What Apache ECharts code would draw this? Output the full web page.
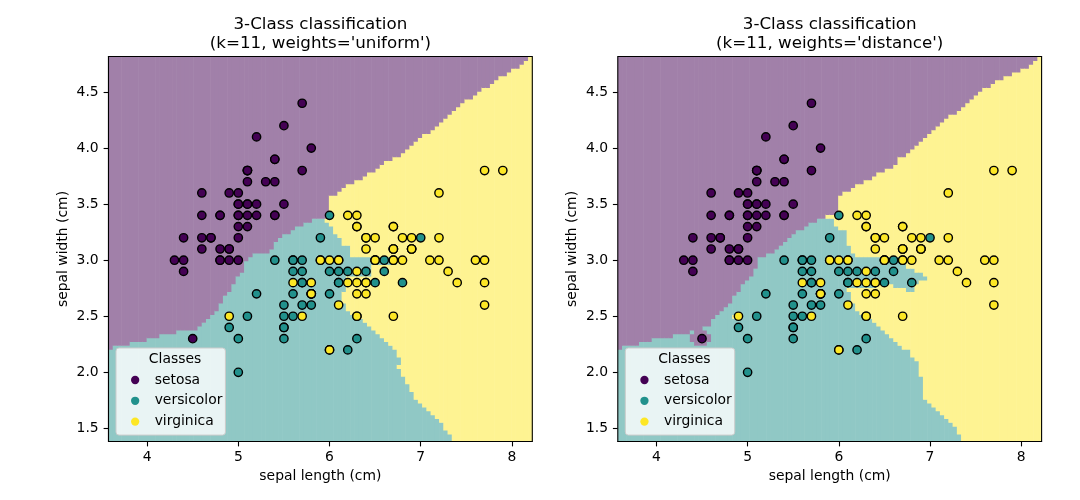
<!DOCTYPE html>
<html><head><meta charset="utf-8">
<script src="https://cdn.jsdelivr.net/npm/echarts@6/dist/echarts.min.js"></script>
<style>html,body{margin:0;padding:0;background:#fff}#c{width:1080px;height:500px}</style>
</head><body><div id="c"></div><script>
// ---- data: iris sepal length / width per class ----
const classNames = ['setosa', 'versicolor', 'virginica'];
const setosa = [[5.1,3.5],[4.9,3.0],[4.7,3.2],[4.6,3.1],[5.0,3.6],[5.4,3.9],[4.6,3.4],[5.0,3.4],[4.4,2.9],[4.9,3.1],
[5.4,3.7],[4.8,3.4],[4.8,3.0],[4.3,3.0],[5.8,4.0],[5.7,4.4],[5.4,3.9],[5.1,3.5],[5.7,3.8],[5.1,3.8],
[5.4,3.4],[5.1,3.7],[4.6,3.6],[5.1,3.3],[4.8,3.4],[5.0,3.0],[5.0,3.4],[5.2,3.5],[5.2,3.4],[4.7,3.2],
[4.8,3.1],[5.4,3.4],[5.2,4.1],[5.5,4.2],[4.9,3.1],[5.0,3.2],[5.5,3.5],[4.9,3.6],[4.4,3.0],[5.1,3.4],
[5.0,3.5],[4.5,2.3],[4.4,3.2],[5.0,3.5],[5.1,3.8],[4.8,3.0],[5.1,3.8],[4.6,3.2],[5.3,3.7],[5.0,3.3]];
const versicolor = [[7.0,3.2],[6.4,3.2],[6.9,3.1],[5.5,2.3],[6.5,2.8],[5.7,2.8],[6.3,3.3],[4.9,2.4],[6.6,2.9],[5.2,2.7],
[5.0,2.0],[5.9,3.0],[6.0,2.2],[6.1,2.9],[5.6,2.9],[6.7,3.1],[5.6,3.0],[5.8,2.7],[6.2,2.2],[5.6,2.5],
[5.9,3.2],[6.1,2.8],[6.3,2.5],[6.1,2.8],[6.4,2.9],[6.6,3.0],[6.8,2.8],[6.7,3.0],[6.0,2.9],[5.7,2.6],
[5.5,2.4],[5.5,2.4],[5.8,2.7],[6.0,2.7],[5.4,3.0],[6.0,3.4],[6.7,3.1],[6.3,2.3],[5.6,3.0],[5.5,2.5],
[5.5,2.6],[6.1,3.0],[5.8,2.6],[5.0,2.3],[5.6,2.7],[5.7,3.0],[5.7,2.9],[6.2,2.9],[5.1,2.5],[5.7,2.8]];
const virginica = [[6.3,3.3],[5.8,2.7],[7.1,3.0],[6.3,2.9],[6.5,3.0],[7.6,3.0],[4.9,2.5],[7.3,2.9],[6.7,2.5],[7.2,3.6],
[6.5,3.2],[6.4,2.7],[6.8,3.0],[5.7,2.5],[5.8,2.8],[6.4,3.2],[6.5,3.0],[7.7,3.8],[7.7,2.6],[6.0,2.2],
[6.9,3.2],[5.6,2.8],[7.7,2.8],[6.3,2.7],[6.7,3.3],[7.2,3.2],[6.2,2.8],[6.1,3.0],[6.4,2.8],[7.2,3.0],
[7.4,2.8],[7.9,3.8],[6.4,2.8],[6.3,2.8],[6.1,2.6],[7.7,3.0],[6.3,3.4],[6.4,3.1],[6.0,3.0],[6.9,3.1],
[6.7,3.1],[6.9,3.1],[5.8,2.7],[6.8,3.2],[6.7,3.3],[6.7,3.0],[6.3,2.5],[6.5,3.0],[6.2,3.4],[5.9,3.0]];

const xTicks = [4, 5, 6, 7, 8];
const yTicks = [1.5, 2.0, 2.5, 3.0, 3.5, 4.0, 4.5];
const meshX = [3.6, 8.2];   // mesh centre range
const meshY = [1.4, 4.8];
const meshN = 100;

// ---- decision-region boundaries (data units) ----
// weights='uniform'
const uniPurpleYellow = [[8.21,4.83],[8.187,4.789],[8.041,4.714],[7.858,4.625],[7.674,4.521],[7.491,4.417],[7.308,4.283],
[7.125,4.164],[6.942,4.060],[6.759,3.941],[6.576,3.852],[6.392,3.748],[6.209,3.674],[5.990,3.555],[5.990,3.39],[5.898,3.376]];
const uniPurpleTeal = [[5.879,3.385],[5.769,3.347],[5.660,3.302],[5.550,3.242],[5.440,3.198],[5.36,3.08],[5.183,3.052],
[5.073,2.993],[5.055,2.889],[4.982,2.844],[4.890,2.725],[4.799,2.591],[4.671,2.487],[4.561,2.398],[4.451,2.383],
[4.268,2.353],[4.011,2.300],[3.755,2.249],[3.572,2.214],[3.40,2.20]];
const uniTealYellow = [[5.898,3.376],[5.990,3.347],[6.080,3.230],[6.170,3.130],[6.228,3.130],[6.228,3.044],[6.741,3.044],
[6.741,2.954],[6.448,2.954],[6.448,2.850],[6.20,2.850],[6.19,2.755],[6.136,2.70],[6.136,2.651],[6.173,2.591],[6.209,2.547],
[6.319,2.502],[6.392,2.443],[6.484,2.383],[6.576,2.309],[6.685,2.234],[6.740,2.160],[6.788,2.130],[6.788,2.071],
[6.740,2.056],[6.795,1.997],[6.905,1.803],[7.015,1.714],[7.125,1.625],[7.235,1.536],[7.345,1.432],[7.381,1.357],[7.39,1.20]];
// weights='distance'
const distPurpleYellow = [[8.20,4.83],[8.173,4.789],[8.027,4.714],[7.844,4.640],[7.661,4.566],[7.551,4.506],[7.404,4.417],
[7.294,4.328],[7.184,4.268],[7.074,4.179],[6.928,4.090],[6.818,4.001],[6.671,3.911],[6.562,3.822],[6.378,3.748],
[6.195,3.674],[5.976,3.555],[5.976,3.406],[5.85,3.406],[5.85,3.385]];
const distPurpleTeal = [[5.85,3.385],[5.719,3.347],[5.609,3.287],[5.499,3.242],[5.389,3.168],[5.316,3.10],[5.133,3.022],
[5.078,2.904],[4.986,2.814],[4.895,2.725],[4.821,2.636],[4.730,2.562],[4.657,2.502],[4.583,2.428],[4.492,2.383],
[4.327,2.353],[3.997,2.300],[3.741,2.249],[3.558,2.214],[3.40,2.20]];
const distTealYellow = [[5.85,3.385],[5.94,3.385],[5.94,3.317],[5.994,3.317],[5.994,3.287],[6.067,3.287],[6.067,3.138],
[6.122,3.138],[6.122,3.079],[6.195,3.052],[6.195,3.037],[6.726,3.037],[6.726,2.948],[6.928,2.874],[6.965,2.844],
[6.891,2.829],[6.891,2.785],[6.836,2.770],[6.818,2.725],[6.745,2.725],[6.708,2.770],[6.617,2.770],[6.562,2.799],
[6.378,2.770],[6.232,2.755],[6.104,2.740],[6.122,2.651],[6.177,2.591],[6.214,2.532],[6.342,2.487],[6.415,2.428],
[6.507,2.353],[6.598,2.294],[6.690,2.234],[6.763,2.190],[6.818,2.116],[6.873,2.071],[6.873,1.967],[6.921,1.952],
[6.921,1.759],[7.001,1.729],[7.111,1.640],[7.221,1.565],[7.313,1.461],[7.367,1.387],[7.386,1.20]];
const distPurplePatches = [[[4.36,2.28],[4.60,2.28],[4.60,2.345],[4.36,2.345]], [[4.41,2.245],[4.55,2.245],[4.55,2.375],[4.41,2.375]]];
const distYellowPatches = [[[4.83,2.485],[4.87,2.485],[4.87,2.515],[4.83,2.515]]];

// ---- styles ----
const F = 'DejaVu Sans';
const pointColors = ['#440154', '#21918c', '#fde725'];
const regionColors = ['#a180a9', '#90c8c5', '#fef392'];
const FS = 13.9, FT = 16.7;

// ---- build the mesh (cells classified by the region outlines) ----
function inside(p, poly) {
  let c = false;
  for (let i = 0, j = poly.length - 1; i < poly.length; j = i++) {
    const xi = poly[i][0], yi = poly[i][1], xj = poly[j][0], yj = poly[j][1];
    if (((yi > p[1]) !== (yj > p[1])) && (p[0] < (xj - xi) * (p[1] - yi) / (yj - yi) + xi)) c = !c;
  }
  return c;
}
function buildRuns(pY, pT, tY, purplePatches, yellowPatches) {
  const purple = [[3.4, 5.0], [pY[0][0], 5.0]].concat(pY, pT);
  const yellow = pY.concat(tY.slice(1), [[tY[tY.length - 1][0], 1.2], [8.5, 1.2], [8.5, 5.0], [pY[0][0], 5.0]]);
  const dx = (meshX[1] - meshX[0]) / (meshN - 1), dy = (meshY[1] - meshY[0]) / (meshN - 1);
  const runs = [];
  for (let i = 0; i < meshN; i++) {
    const xc = meshX[0] + i * dx;
    let cur = -1, start = 0;
    for (let j = 0; j <= meshN; j++) {
      let cls = -2;
      if (j < meshN) {
        const p = [xc, meshY[0] + j * dy];
        if (purplePatches.some(q => inside(p, q))) cls = 0;
        else if (yellowPatches.some(q => inside(p, q))) cls = 2;
        else if (inside(p, purple)) cls = 0;
        else if (inside(p, yellow)) cls = 2;
        else cls = 1;
      }
      if (cls !== cur) {
        if (cur >= 0) runs.push([xc - dx / 2, xc + dx / 2, meshY[0] + (start - 0.5) * dy, meshY[0] + (j - 0.5) * dy, cur]);
        cur = cls; start = j;
      }
    }
  }
  return runs;
}
const uniRuns = buildRuns(uniPurpleYellow, uniPurpleTeal, uniTealYellow, [], []);
const distRuns = buildRuns(distPurpleYellow, distPurpleTeal, distTealYellow, distPurplePatches, distYellowPatches);

const dxH = (meshX[1] - meshX[0]) / (meshN - 1) / 2, dyH = (meshY[1] - meshY[0]) / (meshN - 1) / 2;
const xMin = meshX[0] - dxH, xMax = meshX[1] + dxH, yMin = meshY[0] - dyH, yMax = meshY[1] + dyH;

const gridLefts = [108.5, 617.8];
const gridTop = 56.5, gridW = 423.8, gridH = 385;
const titles = ["3-Class classification\n(k=11, weights='uniform')", "3-Class classification\n(k=11, weights='distance')"];

function xAx(i) {
  return {type: 'value', gridIndex: i, min: xMin, max: xMax, name: 'sepal length (cm)', nameLocation: 'middle', nameGap: 28,
    nameTextStyle: {fontSize: FS, color: '#000', fontFamily: F},
    axisLine: {show: true, onZero: false, lineStyle: {color: '#000', width: 1.1}},
    axisTick: {show: true, customValues: xTicks, length: 4.9, lineStyle: {color: '#000', width: 1.1}},
    axisLabel: {show: true, customValues: xTicks, fontSize: FS, color: '#000', fontFamily: F, margin: 9},
    splitLine: {show: false}};
}
function yAx(i) {
  return {type: 'value', gridIndex: i, min: yMin, max: yMax, name: 'sepal width (cm)', nameLocation: 'middle', nameGap: 38.5,
    nameRotate: 90, nameTextStyle: {fontSize: FS, color: '#000', fontFamily: F},
    axisLine: {show: true, onZero: false, lineStyle: {color: '#000', width: 1.1}},
    axisTick: {show: true, customValues: yTicks, length: 4.9, lineStyle: {color: '#000', width: 1.1}},
    axisLabel: {show: true, customValues: yTicks, fontSize: FS, color: '#000', fontFamily: F, margin: 9.8,
      formatter: v => Number(v).toFixed(1)},
    splitLine: {show: false}};
}
function regionSeries(i, runs) {
  return {type: 'custom', xAxisIndex: i, yAxisIndex: i, data: runs, silent: true, clip: true, z: 1,
    encode: {x: [0, 1], y: [2, 3]},
    renderItem: function (params, api) {
      const p0 = api.coord([api.value(0), api.value(3)]);
      const p1 = api.coord([api.value(1), api.value(2)]);
      return {type: 'rect', shape: {x: p0[0], y: p0[1], width: p1[0] - p0[0] + 0.6, height: p1[1] - p0[1] + 0.6},
        style: {fill: regionColors[api.value(4)]}};
    }};
}
const classData = [setosa, versicolor, virginica];
const series = [regionSeries(0, uniRuns), regionSeries(1, distRuns)];
[0, 1].forEach(g => classData.forEach((d, k) => series.push({
  type: 'scatter', name: classNames[k], xAxisIndex: g, yAxisIndex: g, data: d, z: 3,
  symbol: 'circle', symbolSize: 8.3,
  itemStyle: {color: pointColors[k], borderColor: '#000', borderWidth: 1.4, opacity: 1},
  emphasis: {disabled: true}
})));

const legends = gridLefts.map(l => ({
  data: classNames, orient: 'vertical', left: l + 7.5, top: 348, selectedMode: false,
  icon: 'circle', itemWidth: 29, itemHeight: 8.3, itemGap: 6.8,
  padding: [25, 3, 6.5, 15], backgroundColor: 'rgba(255,255,255,0.8)', borderColor: '#cccccc', borderWidth: 1, borderRadius: 3,
  itemStyle: {borderWidth: 0},
  textStyle: {fontSize: FS, color: '#000', fontFamily: F, lineHeight: 14}
}));

const graphics = [];
gridLefts.forEach((l, i) => {
  graphics.push({type: 'text', x: l + gridW / 2, y: 15.5, z: 10, silent: true,
    style: {text: titles[i], align: 'center', verticalAlign: 'top', fontSize: FT, lineHeight: 18.5, fontFamily: F, fill: '#000'}});
  graphics.push({type: 'text', x: l + 66.5, y: 359, z: 10, silent: true,
    style: {text: 'Classes', align: 'center', verticalAlign: 'middle', fontSize: FS, fontFamily: F, fill: '#000'}});
});

const chart = echarts.init(document.getElementById('c'), null, {renderer: 'canvas'});
chart.setOption({
  animation: false,
  backgroundColor: '#fff',
  grid: gridLefts.map(l => ({left: l, top: gridTop, width: gridW, height: gridH, show: true, borderColor: '#000', borderWidth: 1.1, z: 10, backgroundColor: 'transparent'})),
  xAxis: [xAx(0), xAx(1)],
  yAxis: [yAx(0), yAx(1)],
  legend: legends,
  graphic: graphics,
  series: series
});
</script></body></html>
